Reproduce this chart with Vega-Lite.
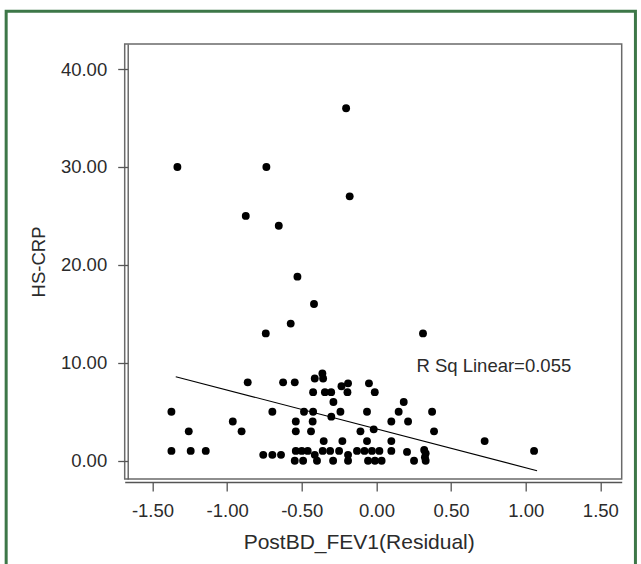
{
  "$schema": "https://vega.github.io/schema/vega-lite/v6.json",
  "width": 497,
  "height": 435,
  "autosize": {"type": "none"},
  "padding": {"left": 124.7, "top": 44, "right": 19.3, "bottom": 85},
  "background": "white",
  "config": {
    "font": "Liberation Sans",
    "view": {"stroke": "#6a6a6a", "strokeWidth": 1.5},
    "locale": {"number": {"decimal": ".", "thousands": ",", "grouping": [3], "currency": ["$", ""], "minus": "-"}}
  },
  "datasets": {
    "points": [
      {"x": -0.203, "y": 36}, {"x": -1.333, "y": 30}, {"x": -0.737, "y": 30}, {"x": -0.179, "y": 27},
      {"x": -0.875, "y": 25}, {"x": -0.654, "y": 24}, {"x": -0.529, "y": 18.8}, {"x": -0.418, "y": 16},
      {"x": -0.574, "y": 14}, {"x": -0.741, "y": 13}, {"x": 0.312, "y": 13},
      {"x": -1.373, "y": 5}, {"x": -1.257, "y": 3}, {"x": -1.373, "y": 1}, {"x": -1.244, "y": 1},
      {"x": -1.143, "y": 1}, {"x": -0.962, "y": 4}, {"x": -0.903, "y": 3}, {"x": -0.862, "y": 8},
      {"x": -0.697, "y": 5}, {"x": -0.625, "y": 8}, {"x": -0.547, "y": 8}, {"x": -0.758, "y": 0.6},
      {"x": -0.697, "y": 0.6}, {"x": -0.639, "y": 0.6}, {"x": -0.54, "y": 4}, {"x": -0.54, "y": 3},
      {"x": -0.54, "y": 1}, {"x": -0.5, "y": 1}, {"x": -0.46, "y": 1}, {"x": -0.547, "y": 0},
      {"x": -0.491, "y": 0}, {"x": -0.485, "y": 5}, {"x": -0.424, "y": 5}, {"x": -0.427, "y": 4},
      {"x": -0.438, "y": 3}, {"x": -0.413, "y": 8.4}, {"x": -0.362, "y": 8.9}, {"x": -0.357, "y": 8.4},
      {"x": -0.424, "y": 7}, {"x": -0.345, "y": 7}, {"x": -0.303, "y": 7}, {"x": -0.288, "y": 6},
      {"x": -0.302, "y": 4.5}, {"x": -0.241, "y": 5}, {"x": -0.234, "y": 7.6}, {"x": -0.19, "y": 7.9},
      {"x": -0.194, "y": 7}, {"x": -0.353, "y": 2}, {"x": -0.228, "y": 2}, {"x": -0.063, "y": 2},
      {"x": -0.05, "y": 7.9}, {"x": -0.011, "y": 7}, {"x": -0.063, "y": 5}, {"x": -0.107, "y": 3},
      {"x": -0.018, "y": 3.2}, {"x": 0.183, "y": 6}, {"x": 0.149, "y": 5}, {"x": 0.373, "y": 5},
      {"x": 0.1, "y": 4}, {"x": 0.212, "y": 4}, {"x": 0.386, "y": 3}, {"x": 0.1, "y": 2},
      {"x": 0.725, "y": 2}, {"x": 1.056, "y": 1},
      {"x": -0.413, "y": 0.6}, {"x": -0.36, "y": 1}, {"x": -0.31, "y": 1}, {"x": -0.25, "y": 1},
      {"x": -0.19, "y": 0.6}, {"x": -0.13, "y": 1}, {"x": -0.08, "y": 1}, {"x": -0.03, "y": 1},
      {"x": 0.02, "y": 1}, {"x": 0.1, "y": 1}, {"x": 0.205, "y": 0.9}, {"x": 0.32, "y": 1.1},
      {"x": 0.33, "y": 0.75}, {"x": 0.325, "y": 0.35}, {"x": 0.33, "y": 0}, {"x": -0.398, "y": 0},
      {"x": -0.29, "y": 0}, {"x": -0.19, "y": 0}, {"x": -0.056, "y": 0}, {"x": -0.01, "y": 0},
      {"x": 0.035, "y": 0}, {"x": 0.252, "y": 0}
    ],
    "fit": [
      {"x": -1.344, "y": 8.58},
      {"x": 1.076, "y": -1.02}
    ],
    "label": [
      {"x": 0.268, "y": 9.7, "text": "R Sq Linear=0.055"}
    ],
    "frame": [
      {"x1": -2.48, "x2": 1.735, "y1": 45.9, "y2": -15}
    ]
  },
  "layer": [
    {
      "data": {"name": "frame"},
      "mark": {"type": "rect", "fill": null, "fillOpacity": 0, "stroke": "#3d7748", "strokeWidth": 3, "clip": false},
      "encoding": {
        "x": {"field": "x1", "type": "quantitative"},
        "x2": {"field": "x2"},
        "y": {"field": "y1", "type": "quantitative"},
        "y2": {"field": "y2"}
      }
    },
    {
      "data": {"name": "points"},
      "mark": {"type": "circle", "size": 62, "color": "#000000", "opacity": 1},
      "encoding": {
        "x": {
          "field": "x", "type": "quantitative",
          "scale": {"domain": [-1.686, 1.643], "nice": false, "zero": false},
          "axis": {
            "title": "PostBD_FEV1(Residual)",
            "values": [-1.5, -1, -0.5, 0, 0.5, 1, 1.5],
            "format": ".2f",
            "grid": false,
            "offset": 3,
            "domainColor": "#555555",
            "domainWidth": 1.3,
            "tickColor": "#555555",
            "tickSize": 9,
            "tickWidth": 1.3,
            "labelFontSize": 18.5,
            "labelColor": "#2b2b2b",
            "labelPadding": 10,
            "titleFontSize": 21,
            "titleFontWeight": "normal",
            "titleColor": "#2b2b2b",
            "titlePadding": 12,
            "titleX": 234
          }
        },
        "y": {
          "field": "y", "type": "quantitative",
          "scale": {"domain": [-1.87, 42.56], "nice": false, "zero": false},
          "axis": {
            "title": "HS-CRP",
            "values": [0, 10, 20, 30, 40],
            "format": ".2f",
            "grid": false,
            "offset": -3,
            "domainColor": "#555555",
            "domainWidth": 1.3,
            "tickColor": "#555555",
            "tickSize": 10,
            "tickWidth": 1.3,
            "labelFontSize": 18.5,
            "labelColor": "#2b2b2b",
            "labelPadding": 11,
            "titleFontSize": 18.5,
            "titleFontWeight": "normal",
            "titleColor": "#2b2b2b",
            "titlePadding": 12
          }
        }
      }
    },
    {
      "data": {"name": "fit"},
      "mark": {"type": "line", "color": "#000000", "strokeWidth": 1.1},
      "encoding": {
        "x": {"field": "x", "type": "quantitative"},
        "y": {"field": "y", "type": "quantitative"}
      }
    },
    {
      "data": {"name": "label"},
      "mark": {"type": "text", "align": "left", "baseline": "middle", "fontSize": 18.5, "color": "#2b2b2b"},
      "encoding": {
        "x": {"field": "x", "type": "quantitative"},
        "y": {"field": "y", "type": "quantitative"},
        "text": {"field": "text"}
      }
    }
  ]
}
